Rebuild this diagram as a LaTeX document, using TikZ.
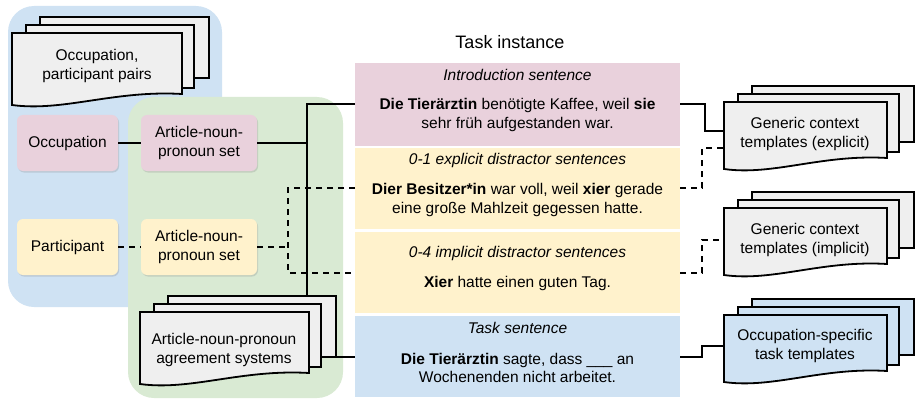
\documentclass[tikz,border=0pt]{standalone}
\usepackage{fontspec}
\setmainfont{Liberation Sans}
\usetikzlibrary{shadows}
\definecolor{cpink}{HTML}{E9D1DC}
\definecolor{cyel}{HTML}{FFF2CC}
\definecolor{cblue}{HTML}{CFE2F3}
\definecolor{cgreen}{HTML}{D9EAD3}
\definecolor{cgray}{HTML}{EFEFEF}
\newcommand\docpage[5]{% x1 y1 x2 y2 fill
  \draw[line width=1.8pt,fill=#5] (#1,#2) -- (#3,#2) -- (#3,#4-14)
   .. controls ({#1+0.6*(#3-#1)},#4-18) and ({#1+0.3*(#3-#1)},#4+4) .. (#1,#4-3) -- cycle;}
\newcommand\docstack[5]{%
  \draw[line width=1.8pt,fill=#5] (#1+28,#2-16) rectangle (#3+27,#4-30);
  \draw[line width=1.8pt,fill=#5] (#1+14,#2-8) rectangle (#3+12,#4-20);
  \docpage{#1}{#2}{#3}{#4}{#5}}
\begin{document}
\begin{tikzpicture}[x=1pt,y=-1pt,
  every node/.style={font=\fontsize{15.5}{18.5}\selectfont,align=center},
  rbox/.style={rounded corners=6pt,minimum width=101pt,minimum height=56pt,inner sep=2pt,drop shadow={opacity=0.25,shadow xshift=1pt,shadow yshift=-1.5pt}},
  con/.style={line width=1.8pt},
  dcon/.style={line width=1.8pt,dash pattern=on 6pt off 5pt}]
\useasboundingbox (0,0) rectangle (920,409);
\fill[cblue,rounded corners=26pt] (8,6) rectangle (222,307);
\docstack{12}{33}{182}{108}{cgray}
\node at (97,66) {Occupation,\\participant pairs};
\node[rbox,fill=cpink] (occ) at (67.5,143) {Occupation};
\node[rbox,fill=cyel] (par) at (67.5,247) {Participant};
\fill[cgreen,rounded corners=26pt] (128,97) rectangle (343,398);
\node[rbox,fill=cpink,minimum width=116pt] (set1) at (199,143) {Article-noun-\\pronoun set};
\node[rbox,fill=cyel,minimum width=116pt] (set2) at (199,247) {Article-noun-\\pronoun set};
\docstack{140}{312}{309}{387}{cgray}
\node at (224,350) {Article-noun-pronoun\\agreement systems};
\coordinate (agr) at (336,357);
\coordinate (agrtop) at (307,296);
% task instance
\node at (510,42) {\fontsize{18}{21}\selectfont Task instance};
\fill[cpink] (355,63) rectangle (680,146);
\fill[cyel] (355,148) rectangle (680,229);
\fill[cyel] (355,232) rectangle (680,313);
\fill[cblue] (355,316) rectangle (680,397);
\coordinate (s1) at (355,104); \coordinate (s1r) at (680,104);
\coordinate (s2) at (355,188); \coordinate (s2r) at (680,188);
\coordinate (s3) at (355,273); \coordinate (s3r) at (680,273);
\coordinate (s4) at (355,357); \coordinate (s4r) at (680,357);
\node (t1) at (517.5,75) {\itshape Introduction sentence};
\node at (517.5,115) {\textbf{Die Tierärztin} benötigte Kaffee, weil \textbf{sie}\\sehr früh aufgestanden war.};
\node (t2) at (517.5,160) {\itshape 0-1 explicit distractor sentences};
\node at (517.5,200) {\textbf{Dier Besitzer*in} war voll, weil \textbf{xier} gerade\\eine große Mahlzeit gegessen hatte.};
\node (t3) at (517.5,253) {\itshape 0-4 implicit distractor sentences};
\node at (517.5,283) {\textbf{Xier} hatte einen guten Tag.};
\node (t4) at (517.5,328) {\itshape Task sentence};
\node at (517.5,368) {\textbf{Die Tierärztin} sagte, dass \_\_\_\ an\\Wochenenden nicht arbeitet.};
% right docs
\docstack{724}{102}{887}{172}{cgray}
\node at (805,134) {Generic context\\templates (explicit)};
\docstack{724}{208}{887}{278}{cgray}
\node at (805,240) {Generic context\\templates (implicit)};
\docstack{724}{315}{887}{385}{cblue}
\node at (805,346) {Occupation-specific\\task templates};
\coordinate (g1) at (724,131);
\coordinate (g2) at (724,148);
\coordinate (g3) at (724,240);
\coordinate (g4) at (724,346);
% connectors
\draw[con] (occ.east) -- (set1.west);
\draw[dcon] (par.east) -- (set2.west);
\draw[con] (set1.east) -- (307,143);
\draw[con] (s1) -| (agrtop);
\draw[con] (agr) -- (s4);
\draw[dcon] (set2.east) -- (288,247);
\draw[dcon] (s2) -| (288,273) -- (s3);
\draw[con] (s1r) -| (705,131) -- (g1);
\draw[dcon] (s2r) -| (702,148) -- (g2);
\draw[dcon] (s3r) -| (702,240) -- (g3);
\draw[con] (s4r) -| (702,346) -- (g4);
\end{tikzpicture}
\end{document}
